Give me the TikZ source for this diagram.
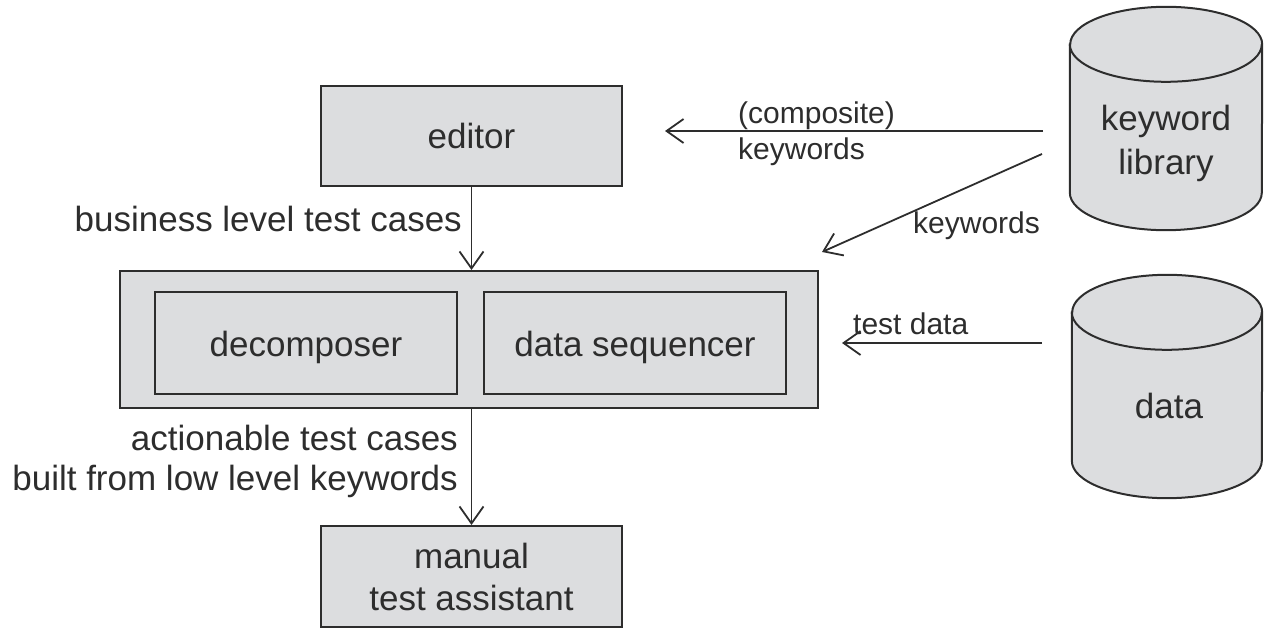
\documentclass[tikz,border=0pt]{standalone}
\usepackage{fontspec}
\setmainfont{Liberation Sans}
\usetikzlibrary{arrows.meta,calc}
\definecolor{boxfill}{RGB}{220,221,223}
\definecolor{ink}{RGB}{45,45,45}
\begin{document}
\begin{tikzpicture}[x=1pt,y=-1pt,
  every node/.style={font=\fontsize{35}{42}\selectfont, text=ink},
  box/.style={draw=ink, fill=boxfill, line width=2pt, inner sep=0pt, text height=30pt, text depth=4pt},
  arr/.style={draw=ink, line width=1.8pt, -{Straight Barb[length=17pt,width=24pt,line width=1.8pt]}},
  lbl/.style={inner sep=0pt},
  slbl/.style={inner sep=0pt, font=\fontsize{30}{36}\selectfont},
  cylfill/.style={fill=boxfill, draw=ink, line width=2pt}]
\useasboundingbox (0,0) rectangle (1264,628);

% boxes
\node[box, minimum width=301pt, minimum height=100pt] (editor) at (471.5,136) {editor};
\node[box, minimum width=698pt, minimum height=137pt] (cont) at (469,339.5) {};
\node[box, minimum width=302pt, minimum height=102pt] (decomp) at (306,343) {decomposer};
\node[box, minimum width=302pt, minimum height=102pt] (dseq) at (635,343) {data sequencer};
\node[box, minimum width=301pt, minimum height=101pt, align=center, text height=, text depth=] (manual) at (471.5,576.5) {manual\\test assistant};

% cylinders
\node[minimum width=192pt, minimum height=223pt, inner sep=0pt] (kl) at (1166,118.5) {};
\node[minimum width=190pt, minimum height=223pt, inner sep=0pt] (data) at (1167,386.5) {};
\foreach \c/\rx in {kl/96pt, data/95pt}{
  \path[cylfill] ([yshift=-37.5pt]\c.north west) -- ([yshift=37.5pt]\c.south west)
    arc[start angle=180, end angle=360, x radius=\rx, y radius=37.5pt]
    -- ([yshift=-37.5pt]\c.north east)
    arc[start angle=0, end angle=180, x radius=\rx, y radius=37.5pt] -- cycle;
  \draw[ink, line width=2pt] ([yshift=-37.5pt]\c.north west)
    arc[start angle=180, end angle=360, x radius=\rx, y radius=37.5pt];
}
\node[lbl, align=center, font=\fontsize{35}{44}\selectfont] (kltext) at (1166,143) {keyword\\library};
\node[lbl, anchor=base] (datatext) at (1169,418) {data};

% connectors
\draw[arr] (editor.south) -- (editor.south |- cont.north);
\draw[arr] (manual.north |- cont.south) -- (manual.north);
\coordinate (k1s) at (1043,131);
\coordinate (k1e) at (665,131);
\draw[arr] (k1s) -- (k1e);
\coordinate (k2s) at (1042,154);
\coordinate (k2e) at (822,252);
\draw[arr] (k2s) -- (k2e);
\coordinate (tds) at (1042,343);
\coordinate (tde) at (842,343);
\draw[arr] (tds) -- (tde);

% labels
\node[lbl, anchor=base east] (blt) at (462,232) {business level test cases};
\node[lbl, anchor=base east] (at1) at (458,450) {actionable test cases};
\node[lbl, anchor=base east] (at2) at (458,490) {built from low level keywords};
\node[slbl, anchor=base west] (comp) at (738,124) {(composite)};
\node[slbl, anchor=base west] (kw1) at (738,160) {keywords};
\node[slbl, anchor=base west] (kw2) at (913,234) {keywords};
\node[slbl, anchor=base west] (td) at (853,335) {test data};
\end{tikzpicture}
\end{document}
